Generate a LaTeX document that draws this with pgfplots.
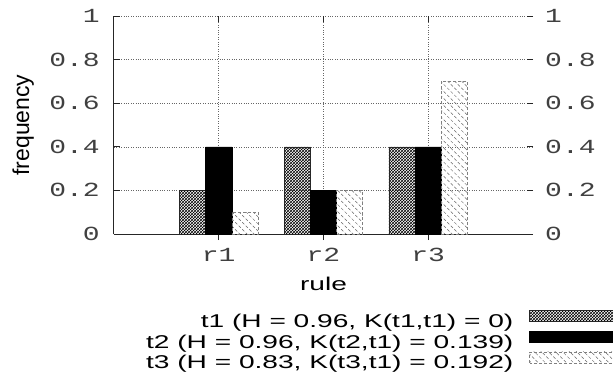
\documentclass[border=0pt]{standalone}
\usepackage{fontspec}
\setmainfont{Liberation Sans}
\newfontfamily\tickfont[FakeStretch=1.4]{Liberation Mono}
\newfontfamily\legfont[FakeStretch=1.52]{Liberation Sans}
\usepackage{pgfplots}
\pgfplotsset{compat=1.18}
\usetikzlibrary{patterns,patterns.meta}
\pgfplotsset{barlegend/.style={legend image code/.code={\draw[##1] (0pt,2pt) rectangle (90pt,13pt);}}}
\begin{document}
\begin{tikzpicture}[x=1pt,y=1pt]
\path[use as bounding box] (0,0) rectangle (613,376);
\begin{axis}[
  at={(114pt,142pt)}, anchor=south west,
  scale only axis, width=419pt, height=218pt,
  xmin=0, xmax=4, ymin=0, ymax=1,
  axis x line*=bottom, axis y line*=left,
  axis line style={line width=1pt, black!85},
  xtick={1,2,3}, xticklabels={r1,r2,r3},
  ytick={0,0.2,0.4,0.6,0.8,1}, yticklabels={0,0.2,0.4,0.6,0.8,1},
  tick align=inside, major tick length=6pt,
  tick style={black!85, line width=0.8pt},
  xticklabel style={font=\tickfont\fontsize{20}{20}\selectfont, color=black!75, inner sep=0pt, anchor=north, yshift=-8pt},
  yticklabel style={font=\tickfont\fontsize{20}{20}\selectfont, color=black!75, inner sep=0pt, anchor=east, xshift=-14pt},
  grid=major, major grid style={dotted, black!60, line width=0.6pt},
  every axis y label/.style={at={(axis description cs:-0.217,0.5)}, rotate=90, anchor=center, font=\fontsize{23}{23}\selectfont},
  every axis x label/.style={at={(axis description cs:0.5,-0.229)}, anchor=center, font=\legfont\fontsize{18.5}{20}\selectfont},
  ylabel={frequency}, xlabel={rule},
  ybar, bar width=0.25,
  legend plot pos=right, legend cell align=right,
  legend style={draw=none, fill=none, inner sep=0pt, outer sep=0pt,
    at={(1.2076,-0.3488)}, anchor=north east, row sep=-2.5pt,
    font=\legfont\fontsize{18.5}{20}\selectfont,
    nodes={inner sep=0pt, text height=14pt, text depth=6pt},
    /tikz/every odd column/.append style={column sep=16pt}},
]
\addplot[bar shift=-0.25, pattern=crosshatch, pattern color=black, draw=black!85, line width=0.6pt, barlegend]
  coordinates {(1,0.2) (2,0.4) (3,0.4)};
\addlegendentry{t1 (H = 0.96, K(t1,t1) = 0)}
\addplot[bar shift=0, fill=black, draw=black, line width=0.6pt, barlegend]
  coordinates {(1,0.4) (2,0.2) (3,0.4)};
\addlegendentry{t2 (H = 0.96, K(t2,t1) = 0.139)}
\addplot[bar shift=0.25, pattern={Lines[angle=-45,distance=5pt,line width=0.5pt]}, pattern color=black!60, draw=black!50, densely dashed, line width=0.6pt, barlegend]
  coordinates {(1,0.1) (2,0.2) (3,0.7)};
\addlegendentry{t3 (H = 0.83, K(t3,t1) = 0.192)}
\end{axis}
\begin{axis}[
  at={(114pt,142pt)}, anchor=south west,
  scale only axis, width=419pt, height=218pt,
  xmin=0, xmax=4, ymin=0, ymax=1,
  axis x line*=top, axis y line*=right,
  axis line style={draw=none},
  xtick={1,2,3}, xticklabels={},
  ytick={0,0.2,0.4,0.6,0.8,1}, yticklabels={0,0.2,0.4,0.6,0.8,1},
  tick align=inside, major tick length=6pt,
  tick style={black!85, line width=0.8pt},
  yticklabel style={font=\tickfont\fontsize{20}{20}\selectfont, color=black!75, inner sep=0pt, anchor=west, xshift=12pt},
]
\end{axis}
\end{tikzpicture}
\end{document}
